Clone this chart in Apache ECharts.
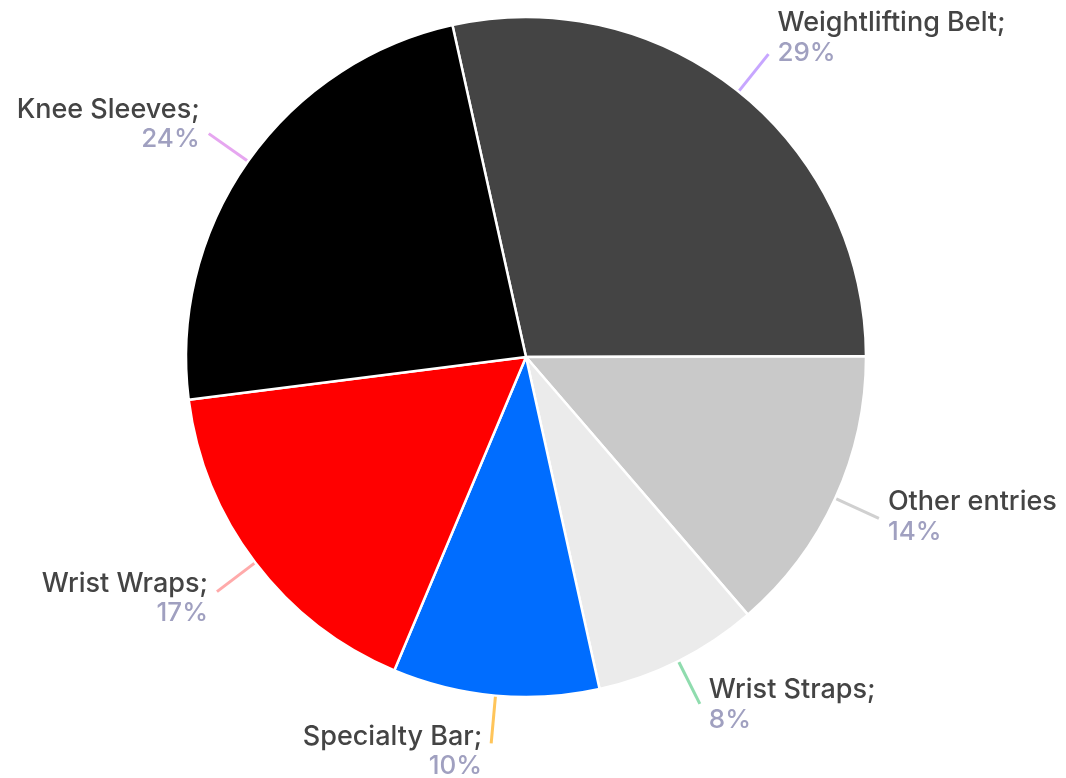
<!DOCTYPE html>
<html>
<head>
<meta charset="utf-8">
<style>
  html, body { margin: 0; padding: 0; background: #ffffff; }
  #chart { width: 1066px; height: 778px; }
</style>
<script src="https://cdn.jsdelivr.net/npm/echarts@6/dist/echarts.min.js"></script>
</head>
<body>
<div id="chart"></div>
<script>
// Share of purchases by accessory (clockwise from the top)
const categories = ['Weightlifting Belt;', 'Other entries', 'Wrist Straps;', 'Specialty Bar;', 'Wrist Wraps;', 'Knee Sleeves;'];
const shares = [29, 14, 8, 10, 17, 24];

// Slice fills and connector colours, in the same order
const sliceColors = ['#444444', '#c9c9c9', '#ebebeb', '#006dff', '#ff0000', '#000000'];
const lineColors = ['#c7a6ff', '#d0d0d0', '#8fdcae', '#ffc55a', '#ffaaaa', '#e6a6f0'];
// Vertical nudge of each label block (negative = up)
const labelShift = [-16, -1, 1, 8, 7, -9];

const data = categories.map((name, i) => {
  const s = labelShift[i];
  return {
    name: name,
    value: shares[i],
    itemStyle: { color: sliceColors[i] },
    labelLine: { lineStyle: { color: lineColors[i] } },
    label: { padding: s < 0 ? [0, 0, -2 * s, 0] : [2 * s, 0, 0, 0] }
  };
});

const chart = echarts.init(document.getElementById('chart'), null, { renderer: 'canvas' });
chart.setOption({
  animation: false,
  backgroundColor: '#ffffff',
  series: [{
    type: 'pie',
    center: [526, 357],
    radius: [0, 340],
    startAngle: 102.5,
    clockwise: true,
    avoidLabelOverlap: false,
    itemStyle: { borderColor: '#ffffff', borderWidth: 2.5 },
    label: {
      show: true,
      position: 'outside',
      distanceToLabelLine: 9,
      formatter: '{n|{b}}\n{p|{c}%}',
      rich: {
        n: { fontFamily: 'Inter', fontSize: 27, fontWeight: 500, color: '#444444', lineHeight: 30 },
        p: { fontFamily: 'Inter', fontSize: 26, fontWeight: 500, color: '#a0a0c0', lineHeight: 30 }
      }
    },
    labelLine: {
      show: true,
      length: 48,
      length2: 0,
      smooth: false,
      lineStyle: { width: 3 }
    },
    emphasis: { disabled: true },
    data: data
  }]
});
</script>
</body>
</html>
